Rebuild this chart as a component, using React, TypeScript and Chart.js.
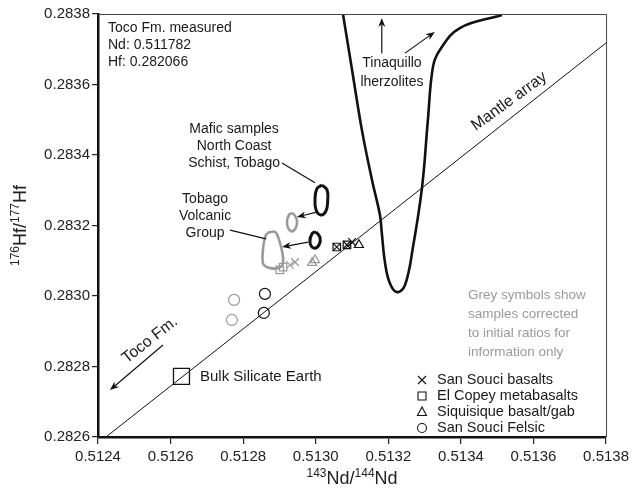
import React, { useEffect, useRef } from "react";
import { Chart, registerables } from "chart.js";
Chart.register(...registerables);

const FONT = "'Liberation Sans', Arial, Helvetica, sans-serif";
const GREY = "#9a9a9a";

const xTicks = [0.5124, 0.5126, 0.5128, 0.513, 0.5132, 0.5134, 0.5136, 0.5138];
const yTicks = [0.2826, 0.2828, 0.283, 0.2832, 0.2834, 0.2836, 0.2838];

const mantleArray = [
  { x: 0.512422, y: 0.2826 },
  { x: 0.5138, y: 0.283718 },
];

const tinaquilloField = [
  { x: 0.513075, y: 0.2838 },
  { x: 0.5131, y: 0.283642 },
  { x: 0.513127, y: 0.283472 },
  { x: 0.513155, y: 0.283329 },
  { x: 0.513177, y: 0.283229 },
  { x: 0.513182, y: 0.283179 },
  { x: 0.513191, y: 0.283094 },
  { x: 0.513204, y: 0.283037 },
  { x: 0.513224, y: 0.283011 },
  { x: 0.513246, y: 0.283031 },
  { x: 0.513268, y: 0.283139 },
  { x: 0.513293, y: 0.283309 },
  { x: 0.513309, y: 0.283499 },
  { x: 0.513323, y: 0.28365 },
  { x: 0.513342, y: 0.283698 },
  { x: 0.513397, y: 0.28376 },
  { x: 0.513513, y: 0.283797 },
];

const mafNCSField = [
  { x: 0.513017, y: 0.283315 },
  { x: 0.513031, y: 0.283301 },
  { x: 0.513033, y: 0.283272 },
  { x: 0.513028, y: 0.283241 },
  { x: 0.513014, y: 0.28323 },
  { x: 0.513001, y: 0.283244 },
  { x: 0.512998, y: 0.283272 },
  { x: 0.513003, y: 0.283304 },
  { x: 0.513017, y: 0.283315 },
];

const mafNCSInitialField = [
  { x: 0.512937, y: 0.283236 },
  { x: 0.512948, y: 0.283216 },
  { x: 0.512945, y: 0.283193 },
  { x: 0.512932, y: 0.283184 },
  { x: 0.512921, y: 0.283204 },
  { x: 0.512926, y: 0.28323 },
  { x: 0.512937, y: 0.283236 },
];

const tvgField = [
  { x: 0.513001, y: 0.283182 },
  { x: 0.513012, y: 0.283165 },
  { x: 0.513009, y: 0.283145 },
  { x: 0.512995, y: 0.283136 },
  { x: 0.512984, y: 0.283153 },
  { x: 0.51299, y: 0.283177 },
  { x: 0.513001, y: 0.283182 },
];

const tvgInitialField = [
  { x: 0.512866, y: 0.283179 },
  { x: 0.512888, y: 0.283182 },
  { x: 0.512899, y: 0.283159 },
  { x: 0.51291, y: 0.283108 },
  { x: 0.512904, y: 0.283082 },
  { x: 0.512874, y: 0.283079 },
  { x: 0.512855, y: 0.283091 },
  { x: 0.512855, y: 0.283136 },
  { x: 0.51286, y: 0.283165 },
  { x: 0.512866, y: 0.283179 },
];

const sanSouciBasalts = [
  { x: 0.513058, y: 0.283139 },
  { x: 0.513086, y: 0.283145 },
  { x: 0.5131, y: 0.283153 },
];
const elCopey = [
  { x: 0.513058, y: 0.283139 },
  { x: 0.513086, y: 0.283145 },
];
const siquisique = [{ x: 0.513119, y: 0.283145 }];
const sanSouciFelsic = [
  { x: 0.51286, y: 0.283006 },
  { x: 0.512857, y: 0.282952 },
];

const sanSouciBasaltsInit = [
  { x: 0.512929, y: 0.283088 },
  { x: 0.512943, y: 0.283096 },
];
const elCopeyInit = [
  { x: 0.512901, y: 0.283074 },
  { x: 0.51291, y: 0.283082 },
];
const siquisiqueInit = [
  { x: 0.51299, y: 0.283094 },
  { x: 0.512998, y: 0.283102 },
];
const sanSouciFelsicInit = [
  { x: 0.512775, y: 0.282989 },
  { x: 0.512769, y: 0.282932 },
];

const bulkSilicateEarth = [{ x: 0.51263, y: 0.282772 }];

const arrows = [
  { x0: 0.513003, y0: 0.283238, x1: 0.512948, y1: 0.283224, head: true },
  { x0: 0.512979, y0: 0.283153, x1: 0.512907, y1: 0.283139, head: true },
  { x0: 0.512907, y0: 0.283377, x1: 0.512998, y1: 0.283321, head: false },
  { x0: 0.512764, y0: 0.283187, x1: 0.512863, y1: 0.283162, head: false },
  { x0: 0.512579, y0: 0.282861, x1: 0.512433, y1: 0.282733, head: true },
  { x0: 0.513182, y0: 0.283689, x1: 0.513182, y1: 0.283789, head: true },
  { x0: 0.513246, y0: 0.283689, x1: 0.513328, y1: 0.283749, head: true },
];

const plotLabels = [
  { text: "Bulk Silicate Earth", x: 0.512681, y: 0.28277, align: "left", rot: 0, size: 15 },
  { text: "Toco Fm.", x: 0.512543, y: 0.282875, align: "center", rot: -38, size: 16 },
  { text: "Mantle array", x: 0.513533, y: 0.283552, align: "center", rot: -36, size: 16 },
  { text: "Tinaquillo", x: 0.51321, y: 0.283661, align: "center", rot: 0, size: 14 },
  { text: "lherzolites", x: 0.51321, y: 0.283607, align: "center", rot: 0, size: 14 },
  { text: "Mafic samples", x: 0.512775, y: 0.283474, align: "center", rot: 0, size: 14 },
  { text: "North Coast", x: 0.512775, y: 0.283426, align: "center", rot: 0, size: 14 },
  { text: "Schist, Tobago", x: 0.512775, y: 0.283377, align: "center", rot: 0, size: 14 },
  { text: "Tobago", x: 0.512695, y: 0.283275, align: "center", rot: 0, size: 14 },
  { text: "Volcanic", x: 0.512695, y: 0.283227, align: "center", rot: 0, size: 14 },
  { text: "Group", x: 0.512695, y: 0.283179, align: "center", rot: 0, size: 14 },
];

const infoLines = ["Toco Fm. measured", "Nd: 0.511782", "Hf: 0.282066"];
const noteLines = ["Grey symbols show", "samples corrected", "to initial ratios for", "information only"];
const legendItems = [
  { label: "San Souci basalts", style: "cross" },
  { label: "El Copey metabasalts", style: "square" },
  { label: "Siquisique basalt/gab", style: "triangle" },
  { label: "San Souci Felsic", style: "circle" },
];

function drawMarker(ctx: CanvasRenderingContext2D, style: string, x: number, y: number) {
  ctx.beginPath();
  if (style === "cross") {
    ctx.moveTo(x - 4, y - 4); ctx.lineTo(x + 4, y + 4);
    ctx.moveTo(x + 4, y - 4); ctx.lineTo(x - 4, y + 4);
  } else if (style === "square") {
    ctx.rect(x - 4, y - 4, 8, 8);
  } else if (style === "triangle") {
    ctx.moveTo(x, y - 5); ctx.lineTo(x + 4.5, y + 3.5); ctx.lineTo(x - 4.5, y + 3.5); ctx.closePath();
  } else {
    ctx.arc(x, y, 4.5, 0, Math.PI * 2);
  }
  ctx.stroke();
}

function drawSupText(ctx: CanvasRenderingContext2D, parts: [string, boolean][], cx: number, cy: number, rot: number) {
  const big = `18px ${FONT}`;
  const small = `12px ${FONT}`;
  let w = 0;
  for (const [t, sup] of parts) { ctx.font = sup ? small : big; w += ctx.measureText(t).width; }
  ctx.save();
  ctx.translate(cx, cy);
  ctx.rotate(rot);
  ctx.fillStyle = "#222";
  ctx.textBaseline = "alphabetic";
  ctx.textAlign = "left";
  let xx = -w / 2;
  for (const [t, sup] of parts) {
    ctx.font = sup ? small : big;
    ctx.fillText(t, xx, sup ? -1 : 6);
    xx += ctx.measureText(t).width;
  }
  ctx.restore();
}

const annotPlugin = {
  id: "annot",
  afterDatasetsDraw(chart: any) {
    const { ctx, chartArea: ca, scales } = chart;
    const sx = scales.x, sy = scales.y;
    ctx.save();
    ctx.strokeStyle = "#444";
    ctx.lineWidth = 1;
    ctx.beginPath();
    ctx.moveTo(ca.left, ca.top + 0.5);
    ctx.lineTo(ca.right + 0.5, ca.top + 0.5);
    ctx.lineTo(ca.right + 0.5, ca.bottom);
    ctx.stroke();

    ctx.strokeStyle = "#111";
    ctx.fillStyle = "#111";
    ctx.lineWidth = 1.2;
    for (const a of arrows) {
      const x0 = sx.getPixelForValue(a.x0), y0 = sy.getPixelForValue(a.y0);
      const x1 = sx.getPixelForValue(a.x1), y1 = sy.getPixelForValue(a.y1);
      const ang = Math.atan2(y1 - y0, x1 - x0);
      const hl = a.head ? 9 : 0;
      ctx.beginPath();
      ctx.moveTo(x0, y0);
      ctx.lineTo(x1 - Math.cos(ang) * hl * 0.7, y1 - Math.sin(ang) * hl * 0.7);
      ctx.stroke();
      if (a.head) {
        ctx.beginPath();
        ctx.moveTo(x1, y1);
        ctx.lineTo(x1 - Math.cos(ang) * hl + Math.sin(ang) * 3.5, y1 - Math.sin(ang) * hl - Math.cos(ang) * 3.5);
        ctx.lineTo(x1 - Math.cos(ang) * hl * 0.7, y1 - Math.sin(ang) * hl * 0.7);
        ctx.lineTo(x1 - Math.cos(ang) * hl - Math.sin(ang) * 3.5, y1 - Math.sin(ang) * hl + Math.cos(ang) * 3.5);
        ctx.closePath();
        ctx.fill();
      }
    }

    ctx.fillStyle = "#1a1a1a";
    ctx.textBaseline = "middle";
    for (const l of plotLabels) {
      const px = sx.getPixelForValue(l.x), py = sy.getPixelForValue(l.y);
      ctx.save();
      ctx.translate(px, py);
      ctx.rotate((l.rot * Math.PI) / 180);
      ctx.font = `${l.size}px ${FONT}`;
      ctx.textAlign = l.align as CanvasTextAlign;
      ctx.fillText(l.text, 0, 0);
      ctx.restore();
    }

    ctx.font = `14px ${FONT}`;
    ctx.textAlign = "left";
    infoLines.forEach((t, i) => ctx.fillText(t, ca.left + 10, ca.top + 14 + i * 17));

    ctx.fillStyle = GREY;
    ctx.font = `13.5px ${FONT}`;
    noteLines.forEach((t, i) => ctx.fillText(t, ca.left + 370, ca.top + 281 + i * 19));

    ctx.fillStyle = "#1a1a1a";
    ctx.strokeStyle = "#111";
    ctx.lineWidth = 1.1;
    ctx.font = `14.5px ${FONT}`;
    legendItems.forEach((it, i) => {
      const yy = ca.top + 366 + i * 16;
      drawMarker(ctx, it.style, ca.left + 324, yy);
      ctx.fillText(it.label, ca.left + 339, yy);
    });

    drawSupText(ctx, [["143", true], ["Nd/", false], ["144", true], ["Nd", false]], (ca.left + ca.right) / 2, 478, 0);
    drawSupText(ctx, [["176", true], ["Hf/", false], ["177", true], ["Hf", false]], 20, (ca.top + ca.bottom) / 2, -Math.PI / 2);
    ctx.restore();
  },
};

const lineDs = (data: any[], color: string, width: number, tension: number) => ({
  type: "line",
  data,
  borderColor: color,
  borderWidth: width,
  pointRadius: 0,
  fill: false,
  tension,
  showLine: true,
});

const ptDs = (data: any[], style: string, color: string, radius: number, bw = 1.2) => ({
  type: "scatter",
  data,
  pointStyle: style,
  pointRadius: radius,
  pointBorderColor: color,
  pointBackgroundColor: "rgba(0,0,0,0)",
  pointBorderWidth: bw,
  showLine: false,
});

export default function App() {
  const ref = useRef<HTMLCanvasElement>(null);
  useEffect(() => {
    if (!ref.current) return;
    Chart.defaults.font.family = FONT;
    const chart = new Chart(ref.current, {
      type: "scatter",
      data: {
        datasets: [
          lineDs(mantleArray, "#111", 1, 0),
          lineDs(tinaquilloField, "#111", 2.6, 0.4),
          lineDs(mafNCSField, "#111", 3, 0.45),
          lineDs(mafNCSInitialField, GREY, 2.6, 0.45),
          lineDs(tvgField, "#111", 3, 0.45),
          lineDs(tvgInitialField, GREY, 2.6, 0.3),
          ptDs(sanSouciBasaltsInit, "crossRot", GREY, 5.5),
          ptDs(elCopeyInit, "rect", GREY, 5.3),
          ptDs(siquisiqueInit, "triangle", GREY, 5.2),
          ptDs(sanSouciFelsicInit, "circle", GREY, 5.5),
          ptDs(sanSouciBasalts, "crossRot", "#111", 5.5),
          ptDs(elCopey, "rect", "#111", 5.3),
          ptDs(siquisique, "triangle", "#111", 5.2),
          ptDs(sanSouciFelsic, "circle", "#111", 5.5),
          ptDs(bulkSilicateEarth, "rect", "#111", 11.3, 1.3),
        ] as any,
      },
      options: {
        animation: false,
        responsive: false,
        layout: { padding: { top: 14, right: 26, left: 0, bottom: 0 } },
        plugins: { legend: { display: false }, tooltip: { enabled: false } },
        scales: {
          x: {
            type: "linear",
            min: 0.5124,
            max: 0.5138,
            afterBuildTicks: (s: any) => { s.ticks = xTicks.map((v) => ({ value: v })); },
            afterFit: (s: any) => { s.height = 56; },
            ticks: {
              callback: (v: any) => Number(v).toFixed(4),
              font: { size: 15, family: FONT },
              color: "#222",
              padding: 4,
              maxRotation: 0,
              autoSkip: false,
            },
            grid: { drawOnChartArea: false, drawTicks: true, tickLength: 7, color: "#222", lineWidth: 1.2 },
            border: { display: true, color: "#111", width: 2.5 },
          },
          y: {
            type: "linear",
            min: 0.2826,
            max: 0.2838,
            afterBuildTicks: (s: any) => { s.ticks = yTicks.map((v) => ({ value: v })); },
            afterFit: (s: any) => { s.width = 98; },
            ticks: {
              callback: (v: any) => Number(v).toFixed(4),
              font: { size: 15, family: FONT },
              color: "#222",
              padding: 2,
              autoSkip: false,
            },
            grid: { drawOnChartArea: false, drawTicks: true, tickLength: 6, color: "#222", lineWidth: 1.2 },
            border: { display: true, color: "#111", width: 2.5 },
          },
        },
      } as any,
      plugins: [annotPlugin as any],
    });
    return () => chart.destroy();
  }, []);
  return (
    <div style={{ position: "fixed", left: 0, top: 0, width: 633, height: 493, background: "#fff" }}>
      <canvas ref={ref} width={633} height={493} style={{ display: "block" }} />
    </div>
  );
}
